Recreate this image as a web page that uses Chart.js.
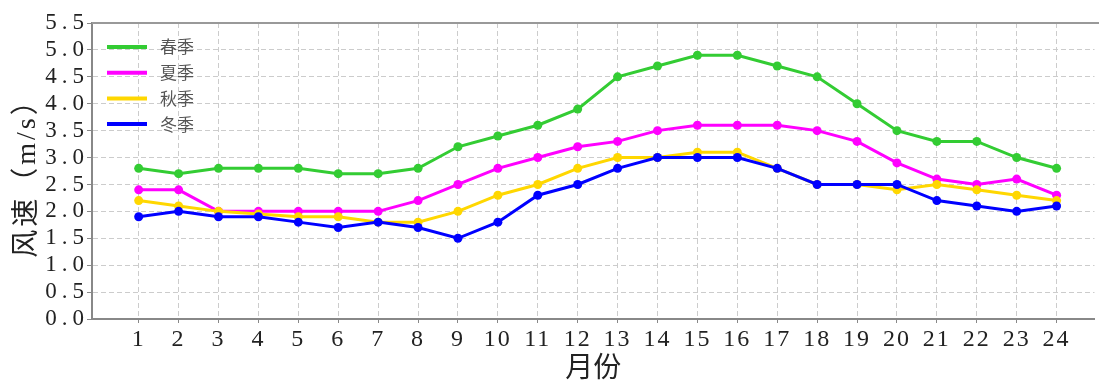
<!DOCTYPE html>
<html>
<head>
<meta charset="utf-8">
<script src="https://cdn.jsdelivr.net/npm/chart.js@4/dist/chart.umd.min.js"></script>
<style>
  html, body { margin: 0; padding: 0; background: #fff; overflow: hidden; }
  #wrap { width: 1099px; height: 380px; }
</style>
</head>
<body>
<div id="wrap"><canvas id="c" width="1099" height="380"></canvas></div>
<script>
// Month index along the x axis
const months = [1,2,3,4,5,6,7,8,9,10,11,12,13,14,15,16,17,18,19,20,21,22,23,24];

// Mean wind speed (m/s) per season
const spring = [2.8,2.7,2.8,2.8,2.8,2.7,2.7,2.8,3.2,3.4,3.6,3.9,4.5,4.7,4.9,4.9,4.7,4.5,4.0,3.5,3.3,3.3,3.0,2.8];
const summer = [2.4,2.4,2.0,2.0,2.0,2.0,2.0,2.2,2.5,2.8,3.0,3.2,3.3,3.5,3.6,3.6,3.6,3.5,3.3,2.9,2.6,2.5,2.6,2.3];
const autumn = [2.2,2.1,2.0,1.95,1.9,1.9,1.8,1.8,2.0,2.3,2.5,2.8,3.0,3.0,3.1,3.1,2.8,2.5,2.5,2.4,2.5,2.4,2.3,2.2];
const winter = [1.9,2.0,1.9,1.9,1.8,1.7,1.8,1.7,1.5,1.8,2.3,2.5,2.8,3.0,3.0,3.0,2.8,2.5,2.5,2.5,2.2,2.1,2.0,2.1];

const seasonNames = ['春季','夏季','秋季','冬季'];
const seasonColors = ['#33cc33','#ff00ff','#ffd700','#0000ff'];
const seasonValues = [spring, summer, autumn, winter];

const yTicks = [0,0.5,1,1.5,2,2.5,3,3.5,4,4.5,5,5.5];

const FONT = "'Liberation Serif', 'Noto Sans CJK SC', serif";

// Character spacing used for each axis' labels and title
const labelSpacing = { x: '2px', y: '5px' };
const titleSpacing = { x: '0px', y: '3px' };

function withSpacing(fn, sp) {
  return function (...args) {
    const ctx = this.ctx;
    const prev = ctx.letterSpacing;
    ctx.letterSpacing = sp;
    fn.apply(this, args);
    ctx.letterSpacing = prev;
  };
}

const axisSpacing = {
  id: 'axisSpacing',
  afterLayout(chart) {
    ['x', 'y'].forEach(id => {
      const s = chart.scales[id];
      if (s && !s.__spaced) {
        s.drawLabels = withSpacing(s.drawLabels, labelSpacing[id]);
        s.drawTitle = withSpacing(s.drawTitle, titleSpacing[id]);
        s.__spaced = true;
      }
    });
  }
};

// Legend drawn inside the plotting area, top-left
const innerLegend = {
  id: 'innerLegend',
  afterDatasetsDraw(chart) {
    const ctx = chart.ctx;
    const area = chart.chartArea;
    ctx.save();
    chart.data.datasets.forEach((ds, i) => {
      const y = area.top + 24 + i * 25.7;
      const x0 = area.left + 15;
      ctx.strokeStyle = ds.borderColor;
      ctx.lineWidth = 4;
      ctx.beginPath();
      ctx.moveTo(x0, y);
      ctx.lineTo(x0 + 40, y);
      ctx.stroke();
      ctx.fillStyle = '#555';
      ctx.font = "17px 'Noto Sans CJK SC'";
      ctx.textBaseline = 'middle';
      ctx.fillText(ds.label, x0 + 53, y);
    });
    ctx.restore();
  }
};

// Top frame line of the plotting area
const topFrame = {
  id: 'topFrame',
  beforeDatasetsDraw(chart) {
    const ctx = chart.ctx;
    const a = chart.chartArea;
    ctx.save();
    ctx.strokeStyle = '#999';
    ctx.lineWidth = 2;
    ctx.beginPath();
    ctx.moveTo(a.left, a.top);
    ctx.lineTo(a.right + 5, a.top);
    ctx.stroke();
    ctx.restore();
  }
};

new Chart(document.getElementById('c'), {
  type: 'line',
  data: {
    datasets: seasonNames.map((name, i) => ({
      label: name,
      data: months.map((m, k) => ({ x: m, y: seasonValues[i][k] })),
      borderColor: seasonColors[i],
      backgroundColor: seasonColors[i],
      borderWidth: 3,
      pointRadius: 4.5,
      pointHoverRadius: 4.5,
      pointBorderWidth: 0,
      tension: 0,
      order: 3 - i
    }))
  },
  options: {
    responsive: false,
    animation: false,
    events: [],
    layout: { padding: { top: 23, right: 0, left: 0, bottom: 0 } },
    plugins: { legend: { display: false }, tooltip: { enabled: false } },
    scales: {
      x: {
        type: 'linear',
        min: -0.17,
        max: 24.95,
        afterBuildTicks(scale) { scale.ticks = months.map(v => ({ value: v })); },
        afterFit(scale) { scale.height = 61; },
        ticks: {
          autoSkip: false,
          maxRotation: 0,
          padding: 2,
          color: '#222',
          font: { family: FONT, size: 24 }
        },
        grid: {
          color: '#cccccc',
          lineWidth: 1,
          tickBorderDash: [],
          tickColor: '#888',
          tickLength: 4
        },
        border: { display: true, color: '#888', width: 2, dash: [5, 3] },
        title: {
          display: true,
          text: '月份',
          color: '#222',
          font: { family: FONT, size: 28 },
          padding: { top: 0, bottom: -6 }
        }
      },
      y: {
        min: 0,
        max: 5.5,
        afterBuildTicks(scale) { scale.ticks = yTicks.map(v => ({ value: v })); },
        afterFit(scale) { scale.width = 92; },
        ticks: {
          autoSkip: false,
          padding: -2,
          color: '#222',
          font: { family: FONT, size: 23 },
          callback: v => Number(v).toFixed(1)
        },
        grid: {
          color: '#cccccc',
          lineWidth: 1,
          tickBorderDash: [],
          tickColor: '#888',
          tickLength: 5
        },
        border: { display: true, color: '#888', width: 2, dash: [5, 3] },
        title: {
          display: true,
          text: '风速（m/s）',
          color: '#222',
          font: { family: FONT, size: 28 },
          padding: { top: 11, bottom: 0 }
        }
      }
    }
  },
  plugins: [axisSpacing, topFrame, innerLegend]
});
</script>
</body>
</html>
